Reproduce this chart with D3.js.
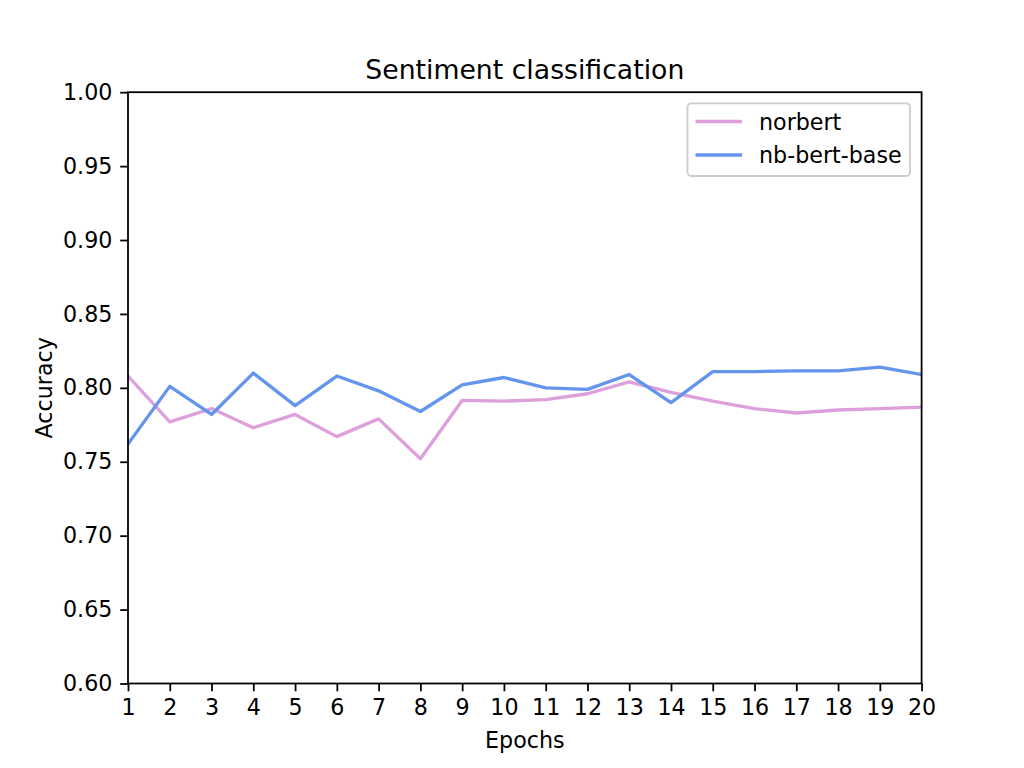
<!DOCTYPE html>
<html>
<head>
<meta charset="utf-8">
<script src="https://cdn.jsdelivr.net/npm/d3@7"></script>
<style>
  body { margin: 0; background: #fff; }
  svg { display: block; font-family: "DejaVu Sans", sans-serif; }
</style>
</head>
<body>
<svg id="chart" width="1024" height="768"></svg>
<script>
const epochs = [1,2,3,4,5,6,7,8,9,10,11,12,13,14,15,16,17,18,19,20];
const norbert = [0.808,0.777,0.786,0.773,0.782,0.767,0.779,0.752,0.7915,0.791,0.792,0.796,0.804,0.797,0.791,0.786,0.783,0.785,0.786,0.787];
const nbBertBase = [0.762,0.801,0.782,0.810,0.788,0.808,0.798,0.784,0.802,0.807,0.800,0.799,0.809,0.790,0.811,0.811,0.8115,0.8115,0.814,0.809];
const yTicks = [0.60,0.65,0.70,0.75,0.80,0.85,0.90,0.95,1.00];
const seriesNames = ["norbert","nb-bert-base"];
const seriesColors = ["#dda0dd","#6495ed"];

const svg = d3.select("#chart");
const L = 128, R = 921.6, T = 92.2, B = 683.5;
const x = d3.scaleLinear().domain([1,20]).range([L,R]);
const y = d3.scaleLinear().domain([0.6,1.0]).range([B,T]);

const series = [norbert, nbBertBase];
const line = d3.line().x((d,i)=>x(epochs[i])).y(d=>y(d));
svg.append("clipPath").attr("id","clip").append("rect")
  .attr("x",L).attr("y",T).attr("width",R-L).attr("height",B-T);
series.forEach((s,k)=>{
  svg.append("path").datum(s).attr("d",line).attr("clip-path","url(#clip)")
    .attr("fill","none").attr("stroke",seriesColors[k]).attr("stroke-width",3.33)
    .attr("stroke-linejoin","round").attr("stroke-linecap","square");
});

// axes
const FS = 22.2;
const xAxis = d3.axisBottom(x).tickValues(epochs).tickFormat(d3.format("d")).tickSize(7.8).tickPadding(7.8);
const yAxis = d3.axisLeft(y).tickValues(yTicks).tickFormat(d3.format(".2f")).tickSize(7.8).tickPadding(7.8);
const gx = svg.append("g").attr("transform",`translate(0,${B})`).call(xAxis);
const gy = svg.append("g").attr("transform",`translate(${L},0)`).call(yAxis);
[gx,gy].forEach(g=>{
  g.select(".domain").remove();
  g.selectAll(".tick line").attr("stroke","#000").attr("stroke-width",1.78);
  g.selectAll(".tick text").attr("fill","#000").style("font-size",FS+"px").style("font-family","DejaVu Sans");
});

// frame
svg.append("rect").attr("x",L).attr("y",T).attr("width",R-L).attr("height",B-T)
  .attr("fill","none").attr("stroke","#000").attr("stroke-width",1.78);

// labels
svg.append("text").attr("x",(L+R)/2).attr("y",T-13.3).attr("text-anchor","middle")
  .style("font-size","26.7px").text("Sentiment classification");
svg.append("text").attr("x",(L+R)/2).attr("y",748.3).attr("text-anchor","middle")
  .style("font-size",FS+"px").text("Epochs");
svg.append("text").attr("transform",`translate(52,${(T+B)/2}) rotate(-90)`).attr("text-anchor","middle")
  .style("font-size",FS+"px").text("Accuracy");

// legend
const lg = svg.append("g");
lg.append("rect").attr("x",687.5).attr("y",103.3).attr("width",222.5).attr("height",72.7).attr("rx",4)
  .attr("fill","#fff").attr("fill-opacity",0.8).attr("stroke","#cccccc").attr("stroke-width",1.78);
seriesNames.forEach((n,k)=>{
  const yy = 121.5 + k*33.5;
  lg.append("line").attr("x1",695.5).attr("x2",742).attr("y1",yy).attr("y2",yy)
    .attr("stroke",seriesColors[k]).attr("stroke-width",3.33);
  lg.append("text").attr("x",759).attr("y",yy+8).style("font-size",FS+"px").text(n);
});
</script>
</body>
</html>
